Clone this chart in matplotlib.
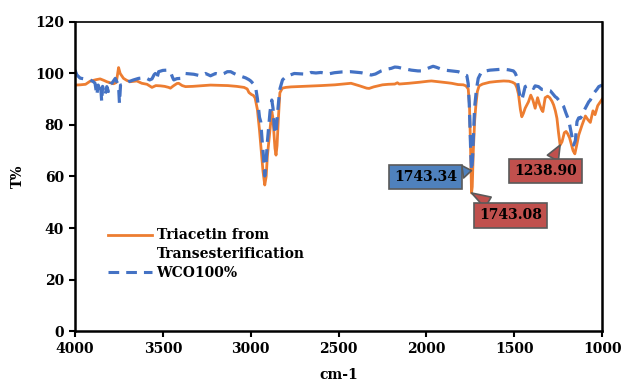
import matplotlib
matplotlib.use("Agg")
import matplotlib.pyplot as plt
from matplotlib.lines import Line2D

plt.rcParams["font.family"] = ["DejaVu Serif"]
plt.rcParams["font.weight"] = "bold"
plt.rcParams["font.size"] = 10

# Triacetin from transesterification (orange, solid)
wn_tri = [4000, 3970, 3940, 3914, 3880, 3857, 3835, 3819, 3781, 3765, 3752, 3743,
          3724, 3705, 3686, 3648, 3620, 3590, 3562, 3540, 3514, 3490, 3467, 3457,
          3440, 3420, 3410, 3390, 3371, 3330, 3290, 3229, 3180, 3130, 3080, 3038,
          3020, 3010, 2995, 2985, 2975, 2962, 2950, 2940, 2930, 2920, 2912, 2905,
          2895, 2887, 2880, 2874, 2868, 2862, 2856, 2850, 2843, 2834, 2820, 2800,
          2770, 2700, 2657, 2600, 2520, 2460, 2429, 2380, 2340, 2326, 2300, 2250,
          2217, 2180, 2165, 2155, 2100, 2040, 1990, 1971, 1930, 1880, 1857, 1820,
          1790, 1775, 1762, 1755, 1750, 1746, 1743.08, 1739, 1733, 1725, 1718, 1710,
          1700, 1680, 1640, 1600, 1560, 1530, 1510, 1495, 1485, 1476, 1465, 1457,
          1448, 1438, 1419, 1406, 1394, 1381, 1367, 1356, 1345, 1337, 1330, 1324,
          1310, 1298, 1285, 1276, 1266, 1257, 1248, 1238.9, 1228, 1215, 1205, 1195,
          1185, 1175, 1165, 1155, 1145, 1133, 1114, 1095, 1080, 1067, 1052, 1040,
          1025, 1000]
t_tri = [95.5, 95.6, 95.8, 97.0, 97.6, 97.9, 97.3, 96.8, 96.0, 96.5, 102.3, 100.0,
         98.1, 97.3, 96.8, 97.1, 96.2, 95.8, 94.6, 95.3, 95.2, 95.0, 94.6, 94.3,
         95.2, 96.1, 96.2, 95.3, 94.9, 95.0, 95.2, 95.5, 95.4, 95.3, 95.0, 94.6,
         94.0, 92.6, 91.8, 91.5, 90.5, 86.0, 78.0, 70.0, 62.0, 56.7, 60.0, 68.0,
         75.0, 81.0, 85.2, 83.0, 77.0, 71.0, 68.3, 72.0, 82.0, 92.5, 94.3, 94.6,
         94.8, 95.0, 95.1, 95.3, 95.6, 96.0, 96.2, 95.2, 94.3, 94.2, 94.8, 95.6,
         95.8, 95.9, 96.4, 95.9, 96.2, 96.6, 97.0, 97.1, 96.8, 96.4, 96.2, 95.7,
         95.6, 95.2, 94.0, 88.0, 75.0, 62.0, 53.6, 56.0, 70.0, 82.0, 88.0, 93.0,
         95.2, 95.9, 96.6, 96.9, 97.1, 97.0, 96.6, 96.0, 94.5, 92.0, 86.0, 83.2,
         84.5, 86.5, 89.0, 91.6, 89.7, 86.5, 90.6, 88.0, 86.0, 85.2, 88.0, 90.6,
         91.2, 90.6, 89.2, 87.8, 85.5, 82.6, 77.0, 72.2, 73.5, 77.0, 77.5, 76.5,
         75.0, 72.5, 70.0, 68.8, 72.0, 76.1, 80.0, 83.5, 82.0, 81.0, 85.5, 84.0,
         87.5, 90.0]

# WCO100% (blue, dashed)
wn_wco = [4000, 3990, 3971, 3940, 3914, 3895, 3886, 3876, 3868, 3861, 3855, 3848,
          3843, 3838, 3829, 3819, 3810, 3800, 3790, 3771, 3762, 3752, 3747, 3741,
          3724, 3695, 3667, 3638, 3600, 3575, 3562, 3550, 3543, 3535, 3524, 3500,
          3476, 3457, 3445, 3438, 3420, 3400, 3390, 3371, 3340, 3324, 3300, 3286,
          3257, 3229, 3200, 3171, 3152, 3133, 3114, 3095, 3076, 3050, 3029, 3010,
          3000, 2985, 2971, 2962, 2950, 2943, 2935, 2928, 2920, 2913, 2905, 2897,
          2890, 2880, 2873, 2867, 2861, 2855, 2848, 2840, 2833, 2819, 2800, 2752,
          2700, 2676, 2657, 2629, 2600, 2560, 2524, 2480, 2433, 2400, 2371, 2340,
          2314, 2290, 2257, 2230, 2200, 2180, 2162, 2130, 2086, 2048, 2029, 2000,
          1962, 1943, 1920, 1895, 1857, 1819, 1800, 1781, 1770, 1762, 1756, 1750,
          1746, 1743.34, 1738, 1733, 1726, 1715, 1705, 1686, 1638, 1600, 1562, 1530,
          1505, 1495, 1486, 1475, 1467, 1457, 1448, 1438, 1419, 1400, 1390, 1381,
          1362, 1343, 1320, 1295, 1267, 1257, 1240, 1219, 1205, 1190, 1180, 1171,
          1162, 1152, 1143, 1133, 1124, 1114, 1105, 1090, 1076, 1067, 1048, 1030,
          1019, 1000]
t_wco = [101.3, 99.5, 98.2, 97.8, 97.5, 96.8, 96.2, 91.6, 95.5, 94.2, 96.0, 89.0,
         95.0, 93.0, 91.6, 94.9, 93.0, 96.0, 96.2, 98.1, 96.8, 95.0, 88.4, 95.5,
         95.5, 96.8, 97.5, 98.1, 98.4, 97.5, 97.9, 99.5, 100.0, 97.8, 100.7, 101.2,
         101.3, 100.7, 98.5, 97.5, 98.0, 98.1, 98.8, 100.0, 99.8, 99.7, 99.3, 99.1,
         100.0, 99.1, 100.0, 99.5, 100.0, 100.7, 100.7, 100.0, 99.4, 98.8, 98.3, 97.6,
         97.1, 96.0, 94.2, 90.3, 83.0, 81.3, 74.0, 68.3, 60.2, 65.0, 73.5, 80.0,
         85.2, 89.7, 86.5, 80.0, 76.5, 78.0, 83.9, 90.0, 94.2, 97.5, 98.8, 100.0,
         99.8, 99.7, 100.4, 100.2, 100.4, 99.8, 100.3, 100.6, 100.7, 100.5, 100.3, 99.8,
         99.4, 99.8, 101.0, 101.6, 102.0, 102.5, 102.4, 101.9, 101.3, 101.0, 101.0, 101.8,
         102.8, 102.4, 101.8, 101.3, 101.0, 100.7, 100.2, 99.4, 99.2, 96.0, 88.0, 75.0,
         66.0, 62.3, 66.0, 75.0, 86.5, 94.0, 98.1, 100.7, 101.3, 101.5, 101.7, 101.4,
         101.0, 100.2, 98.8, 94.0, 91.0, 89.7, 92.0, 94.9, 95.5, 95.0, 94.2, 95.2,
         94.9, 93.8, 93.8, 93.3, 91.0, 90.5, 89.0, 87.2, 84.5, 81.9, 78.5, 75.5,
         72.2, 74.0, 81.3, 82.8, 82.6, 83.5, 85.3, 87.2, 89.0, 89.7, 92.3, 93.8,
         94.9, 95.5]

# callouts: (label, peak wavenumber, peak T%, box x, box y, colour)
callouts = [
    ("1743.34", 1743.34, 62.3, 2006, 59.8, "#4F81BD"),
    ("1743.08", 1743.08, 53.6, 1522, 44.9, "#C0504D"),
    ("1238.90", 1238.9, 72.2, 1321, 62.1, "#C0504D"),
]

fig = plt.figure(figsize=(6.22, 3.81), dpi=100)
ax = fig.add_axes([0.1206, 0.1312, 0.8474, 0.8111])

ax.plot(wn_tri, t_tri, color="#ED7D31", lw=2.0, solid_joinstyle="round")
ax.plot(wn_wco, t_wco, color="#4472C4", lw=2.3, dashes=(4, 2.3))

for label, px, py, bx, by, col in callouts:
    ax.annotate(label, xy=(px, py), xytext=(bx, by), ha="center", va="center",
                fontsize=10, fontweight="bold", color="black",
                bbox=dict(boxstyle="square,pad=0.38", fc=col, ec="#5a5a5a", lw=1.2),
                arrowprops=dict(arrowstyle="wedge,tail_width=0.9", fc=col,
                                ec="#5a5a5a", lw=1.2, shrinkA=0, shrinkB=0))

ax.set_xlim(4000, 1000)
ax.set_ylim(0, 120)
ax.set_xticks([4000, 3500, 3000, 2500, 2000, 1500, 1000])
ax.set_yticks([0, 20, 40, 60, 80, 100, 120])
ax.tick_params(direction="out", length=4, width=1.5, pad=4, labelsize=10)
for s in ax.spines.values():
    s.set_linewidth(1.8)
    s.set_color("black")
ax.spines["top"].set_linewidth(1.2)

ax.set_xlabel("cm-1", fontweight="bold")
ax.xaxis.set_label_coords(0.5, -0.12)
ax.set_ylabel("T%", fontweight="bold")
ax.yaxis.set_label_coords(-0.095, 0.5)

handles = [Line2D([], [], color="#ED7D31", lw=2.0),
           Line2D([], [], color="none"),
           Line2D([], [], color="#4472C4", lw=2.2, dashes=(3.5, 2.3))]
labels = ["Triacetin from", "Transesterification", "WCO100%"]
ax.legend(handles, labels, loc="upper left", bbox_to_anchor=(0.0626, 0.332),
          frameon=False, borderpad=0, borderaxespad=0, handlelength=3.2,
          handletextpad=0.3, labelspacing=0.34, prop={"weight": "bold", "size": 10})

fig.savefig("out.png", dpi=100)
